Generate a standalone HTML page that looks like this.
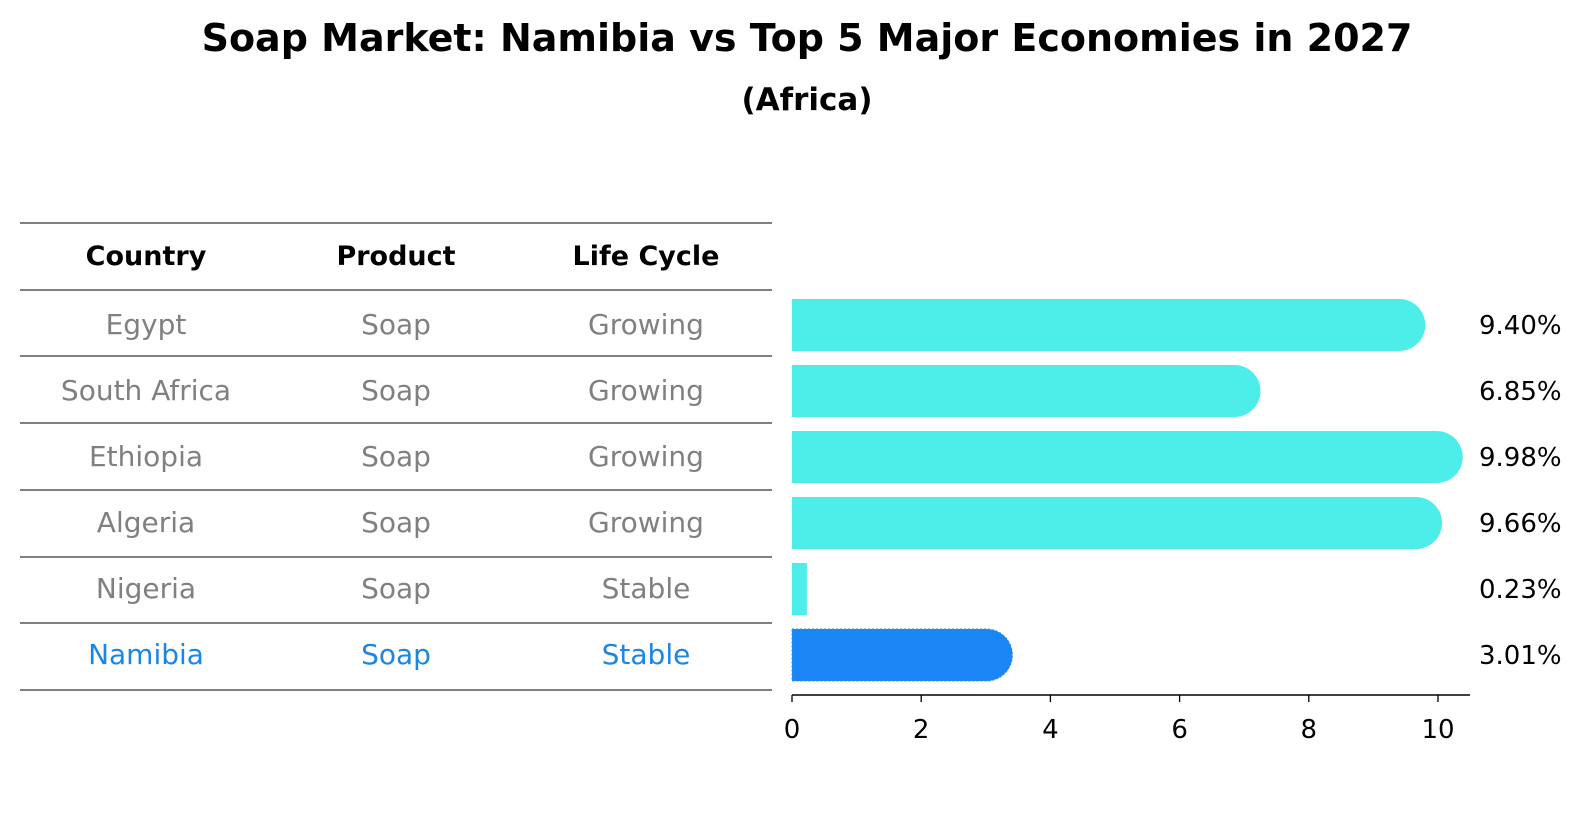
<!DOCTYPE html>
<html><head><meta charset="utf-8"><style>
body{margin:0;background:#fff;font-family:"DejaVu Sans","Liberation Sans",sans-serif;}
</style></head><body>
<svg id="c" width="1586" height="823" viewBox="0 0 1586 823" xmlns="http://www.w3.org/2000/svg" font-family="DejaVu Sans, Liberation Sans, sans-serif">
<rect width="1586" height="823" fill="#fff"/>
<text x="807" y="51" text-anchor="middle" font-size="38" font-weight="bold">Soap Market: Namibia vs Top 5 Major Economies in 2027</text>
<text x="807" y="110" text-anchor="middle" font-size="31" font-weight="bold">(Africa)</text>
<g id="table"></g>
<g id="bars"></g>
</svg>
<script>
const countries=["Egypt","South Africa","Ethiopia","Algeria","Nigeria","Namibia"];
const products=["Soap","Soap","Soap","Soap","Soap","Soap"];
const lifecycles=["Growing","Growing","Growing","Growing","Stable","Stable"];
const values=[9.40,6.85,9.98,9.66,0.23,3.01];
const ticks=[0,2,4,6,8,10];
const NS="http://www.w3.org/2000/svg";
function mk(t,a,p){const e=document.createElementNS(NS,t);for(const k in a)e.setAttribute(k,a[k]);p.appendChild(e);return e;}
const x0=792,scale=64.6;
const xs=v=>x0+v*scale;
const rowY=i=>325+i*66;
const tbl=document.getElementById('table');
const lines=[223,290,356,423,490,557,623,690];
lines.forEach((y,i)=>{const l=mk('line',{x1:20,x2:772,y1:y,y2:y,stroke:'#000','stroke-width':1},tbl);

});
const cols=[146,396,646];
["Country","Product","Life Cycle"].forEach((h,j)=>{const t=mk('text',{x:cols[j],y:265,'text-anchor':'middle','font-size':27,'font-weight':'bold'},tbl);t.textContent=h;

});
countries.forEach((c,i)=>{const col=c==="Namibia"?"#1a87e6":"#808080";
[c,products[i],lifecycles[i]].forEach((s,j)=>{const t=mk('text',{x:cols[j],y:rowY(i)+9,'text-anchor':'middle','font-size':28,fill:col},tbl);t.textContent=s;

});});
const g=document.getElementById('bars');
const h=52,r=26;
values.forEach((v,i)=>{const col=countries[i]==="Namibia"?"#1a85f5":"#4deeea";
const y=rowY(i)-h/2,w=v*scale;
let d;
if(w>r){d=`M${x0},${y} H${x0+w} A${r},${r} 0 0 1 ${x0+w},${y+h} H${x0} Z`;}
else{d=`M${x0},${y} H${x0+w} V${y+h} H${x0} Z`;}
const p=mk('path',{d:d,fill:col},g);
if(countries[i]==="Namibia"){p.setAttribute('stroke','#3a8ee0');p.setAttribute('stroke-dasharray','2,2');p.setAttribute('stroke-width','1');}


const t=mk('text',{x:1479,y:rowY(i)+9,'font-size':26},g);t.textContent=v.toFixed(2)+'%';

});
const ax=mk('line',{x1:x0,x2:1470,y1:695,y2:695,stroke:'#000','stroke-width':1.5},g);


ticks.forEach(v=>{const tk=mk('line',{x1:xs(v),x2:xs(v),y1:695,y2:702,stroke:'#000','stroke-width':1.3},g);


const t=mk('text',{x:xs(v),y:738,'text-anchor':'middle','font-size':26},g);t.textContent=v;

});
</script>
</body></html>
